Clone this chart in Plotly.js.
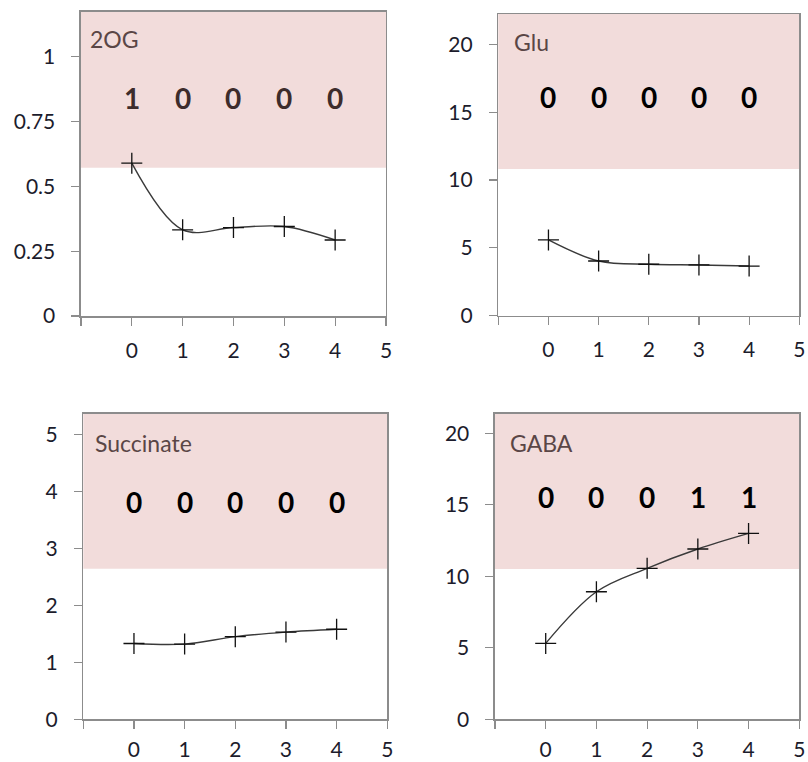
<!DOCTYPE html>
<html>
<head>
<meta charset="utf-8">
<script src="https://cdn.plot.ly/plotly-3.0.1.min.js"></script>
<style>html,body{margin:0;padding:0;background:#fff;}#chart{width:808px;height:762px;}</style>
</head>
<body>
<div id="chart"></div>
<script>
// ---- data ----
const timePoints = [0, 1, 2, 3, 4];
const panelNames = ["2OG", "Glu", "Succinate", "GABA"];
const ogValues = [0.589, 0.332, 0.341, 0.345, 0.293];
const gluValues = [5.58, 4.03, 3.79, 3.74, 3.66];
const succinateValues = [1.33, 1.32, 1.45, 1.53, 1.58];
const gabaValues = [5.31, 8.92, 10.56, 11.91, 13.0];
const ogFlags = ["1", "0", "0", "0", "0"];
const gluFlags = ["0", "0", "0", "0", "0"];
const succinateFlags = ["0", "0", "0", "0", "0"];
const gabaFlags = ["0", "0", "0", "1", "1"];
const ogThreshold = 0.571;
const gluThreshold = 10.81;
const succinateThreshold = 2.64;
const gabaThreshold = 10.51;
const ogTicks = [0, 0.25, 0.5, 0.75, 1];
const ogTickLabels = ["0", "0.25", "0.5", "0.75", "1"];
const gluTicks = [0, 5, 10, 15, 20];
const succinateTicks = [0, 1, 2, 3, 4, 5];
const gabaTicks = [0, 5, 10, 15, 20];
const xTicks = [-1, 0, 1, 2, 3, 4, 5];
const xTickLabels = ["", "0", "1", "2", "3", "4", "5"];

// ---- layout/styling ----
const FONT = "Lato, 'Open Sans', sans-serif";
const panels = [
  {values: ogValues, flags: ogFlags, thr: ogThreshold, ticks: ogTicks, tickLabels: ogTickLabels, yMax: 1.172,
   xd: [0.1002, 0.4777], yd: [0.5853, 0.9843], labelPos: [0.023, 0.91], numY: 0.718, numColor: "#3d2c2c", xStandoff: 7},
  {values: gluValues, flags: gluFlags, thr: gluThreshold, ticks: gluTicks, tickLabels: gluTicks.map(String), yMax: 22.23,
   xd: [0.6167, 0.9892], yd: [0.5857, 0.9816], labelPos: [0.045, 0.908], numY: 0.726, numColor: "#000", xStandoff: 7},
  {values: succinateValues, flags: succinateFlags, thr: succinateThreshold, ticks: succinateTicks, tickLabels: succinateTicks.map(String), yMax: 5.356,
   xd: [0.1031, 0.4793], yd: [0.0560, 0.4567], labelPos: [0.033, 0.906], numY: 0.713, numColor: "#000", xStandoff: 3},
  {values: gabaValues, flags: gabaFlags, thr: gabaThreshold, ticks: gabaTicks, tickLabels: gabaTicks.map(String), yMax: 21.35,
   xd: [0.6126, 0.9892], yd: [0.0560, 0.4567], labelPos: [0.044, 0.904], numY: 0.729, numColor: "#000", xStandoff: 3}
];

const traces = [];
const layout = {
  width: 808, height: 762,
  margin: {l: 0, r: 0, t: 0, b: 0},
  paper_bgcolor: "#fff", plot_bgcolor: "#fff",
  showlegend: false,
  font: {family: FONT, color: "#222"},
  shapes: [], annotations: []
};

panels.forEach((p, i) => {
  const n = i + 1;
  const xa = n === 1 ? "x" : "x" + n;
  const ya = n === 1 ? "y" : "y" + n;
  const xKey = n === 1 ? "xaxis" : "xaxis" + n;
  const yKey = n === 1 ? "yaxis" : "yaxis" + n;
  traces.push({
    type: "scatter", mode: "lines+markers",
    x: timePoints, y: p.values, xaxis: xa, yaxis: ya,
    line: {shape: "spline", smoothing: 1, color: "#3a3a3a", width: 1.4},
    marker: {symbol: "cross-thin", size: 15, line: {width: 1.3, color: "#111"}, color: "#111"},
    cliponaxis: false, hoverinfo: "skip"
  });
  layout[xKey] = {
    domain: p.xd, anchor: ya, range: [-1, 5], fixedrange: true,
    tickmode: "array", tickvals: xTicks, ticktext: xTickLabels,
    ticks: "outside", ticklen: 8, tickwidth: 1.2, tickcolor: "#8c8c8c",
    showline: true, linecolor: "#8c8c8c", linewidth: 1.5, mirror: true,
    showgrid: false, zeroline: false,
    tickfont: {family: FONT, size: 21, color: "#1c1c2c"}, ticklabelstandoff: p.xStandoff
  };
  layout[yKey] = {
    domain: p.yd, anchor: xa, range: [0, p.yMax], fixedrange: true,
    tickmode: "array", tickvals: p.ticks, ticktext: p.tickLabels,
    ticks: "outside", ticklen: 8, tickwidth: 1.2, tickcolor: "#8c8c8c",
    showline: true, linecolor: "#8c8c8c", linewidth: 1.5, mirror: true,
    showgrid: false, zeroline: false,
    tickfont: {family: FONT, size: 21, color: "#1c1c2c"}, ticklabelstandoff: 12
  };
  layout.shapes.push({
    type: "rect", layer: "below", xref: xa + " domain", yref: ya,
    x0: 0, x1: 1, y0: p.thr, y1: p.yMax,
    fillcolor: "#F2DCDB", line: {width: 0}
  });
  layout.annotations.push({
    xref: xa + " domain", yref: ya + " domain", x: p.labelPos[0], y: p.labelPos[1],
    xanchor: "left", yanchor: "middle", showarrow: false,
    text: panelNames[i], font: {family: FONT, size: 23, color: "#5a4646"}
  });
  p.flags.forEach((f, k) => {
    layout.annotations.push({
      xref: xa, yref: ya + " domain", x: timePoints[k], y: p.numY,
      xanchor: "center", yanchor: "middle", showarrow: false,
      text: "<b>" + f + "</b>", font: {family: FONT, size: 28, color: p.numColor}
    });
  });
});

Plotly.newPlot("chart", traces, layout, {staticPlot: true, displayModeBar: false});
</script>
</body>
</html>
